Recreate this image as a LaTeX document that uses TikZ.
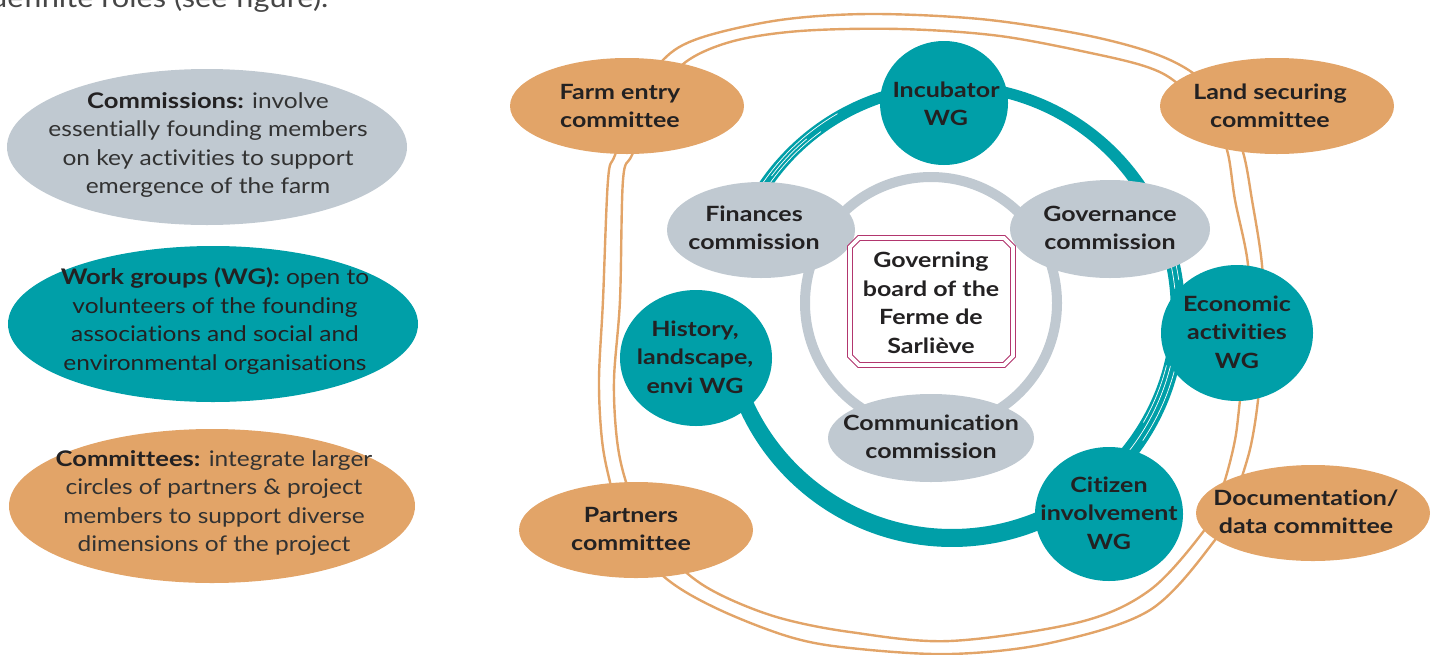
\documentclass[tikz,border=0pt]{standalone}
\usepackage{fontspec}
\setmainfont{Lato}[FakeStretch=1.14, Ligatures=NoCommon, BoldFeatures={FakeStretch=1.19}]
\definecolor{wgteal}{RGB}{0,159,168}
\definecolor{cmgrey}{RGB}{192,201,209}
\definecolor{ctorange}{RGB}{226,164,104}
\definecolor{boardred}{RGB}{178,54,110}
\definecolor{txt}{RGB}{35,33,34}
\definecolor{bodytxt}{RGB}{50,50,50}
\begin{document}
\begin{tikzpicture}[x=1pt,y=-1pt,
  lbl/.style={font=\fontsize{21}{28.5}\selectfont\bfseries, text=txt, align=center, inner sep=0pt},
  body/.style={font=\fontsize{21.5}{28.5}\selectfont, text=bodytxt, align=center, inner sep=0pt},
  ctfill/.style={fill=ctorange},
  wgfill/.style={fill=wgteal},
  cmfill/.style={fill=cmgrey},
  outerloop/.style={draw=ctorange, line width=2.4pt},
  cmring/.style={draw=cmgrey, line width=10pt},
  brush/.style={draw=white, line width=0.7pt},
  boardframe/.style={draw=boardred, line width=1.1pt, double=white, double distance=3.6pt, fill=white}
]
\useasboundingbox (0,0) rectangle (1437,654);
\clip (0,0) rectangle (1437,654);

% cut-off introductory text at top
\node[body, anchor=base west, font=\fontsize{27}{30}\selectfont, text=bodytxt!90] (intro) at (-10,7) {definite roles (see figure).};

% ---------- legend ----------
\path[cmfill] (207,147) ellipse [x radius=200pt, y radius=78pt];
\node[body] (legcm) at (208,145) {{\bfseries\color{txt}Commissions:} involve\\essentially founding members\\on key activities to support\\emergence of the farm};
\path[wgfill] (213,324) ellipse [x radius=205pt, y radius=78pt];
\node[body, text=txt] (legwg) at (215,321) {{\bfseries Work groups (WG):} open to\\volunteers of the founding\\associations and social and\\environmental organisations};
\path[ctfill] (212,506) ellipse [x radius=203pt, y radius=77pt];
\node[body] (legct) at (214,503) {{\bfseries\color{txt}Committees:} integrate larger\\circles of partners \& project\\members to support diverse\\dimensions of the project};

% ---------- outer double loop (committees) ----------
\draw[outerloop] plot[smooth cycle, tension=0.55] coordinates {
 (663,60) (700,38) (780,20) (870,14) (980,19) (1080,34) (1150,52) (1193,73) (1225,105)
 (1243,152) (1252,200) (1262,265) (1264,330) (1258,400) (1252,440) (1245,467) (1232,505)
 (1215,540) (1150,610) (1050,643) (950,654) (850,648) (790,637) (720,610) (668,580)
 (625,535) (610,482) (602,440) (599,380) (603,300) (608,180) (615,155) (635,105)};
\draw[outerloop] plot[smooth cycle, tension=0.55] coordinates {
 (682,65) (730,42) (800,31) (900,29) (1000,36) (1100,55) (1150,68) (1177,83) (1210,115)
 (1227,150) (1235,200) (1248,265) (1248,330) (1240,400) (1235,440) (1225,480) (1215,505)
 (1203,532) (1150,590) (1080,622) (950,641) (850,632) (780,618) (725,597) (688,574)
 (645,530) (626,482) (617,440) (614,380) (620,300) (623,180) (632,155) (655,108)};

% ---------- work-group ring (brush stroke, thicker at the bottom) ----------
\fill[wgteal] plot[domain=-146:158, samples=150, smooth]
    ({952+(226+(11+3.5*(1+sin(\x)))/2)*cos(\x)},{312+(226+(11+3.5*(1+sin(\x)))/2)*sin(\x)})
  -- plot[domain=158:-146, samples=150, smooth]
    ({952+(226-(11+3.5*(1+sin(\x)))/2)*cos(\x)},{312+(226-(11+3.5*(1+sin(\x)))/2)*sin(\x)})
  -- cycle;
\foreach \sa/\ea/\rr in {-146/-120/229, -146/-126/223, -143/-130/226, -24/-6/224, -22/-8/229,
   10/38/225, 12/34/230, 14/30/221}{
  \draw[brush] plot[domain=\sa:\ea, samples=30, smooth] ({952+\rr*cos(\x)},{312+\rr*sin(\x)});
}

% ---------- commission ring ----------
\draw[cmring] (931,303) circle [radius=126];

% ---------- committees ----------
\path[ctfill] (627,106) ellipse [x radius=117pt, y radius=48pt];
\node[lbl] (farm) at (620,106) {Farm entry\\committee};
\path[ctfill] (1277,106) ellipse [x radius=117pt, y radius=48pt];
\node[lbl] (land) at (1270,106) {Land securing\\committee};
\path[ctfill] (636,530) ellipse [x radius=117pt, y radius=48pt];
\node[lbl] (partners) at (631,529) {Partners\\committee};
\path[ctfill] (1313,513) ellipse [x radius=117pt, y radius=48pt];
\node[lbl] (doc) at (1306,512) {Documentation/\\data committee};

% ---------- work groups ----------
\path[wgfill] (944,103) ellipse [x radius=64pt, y radius=62pt];
\node[lbl] (incub) at (946,104) {Incubator\\WG};
\path[wgfill] (1237,333) ellipse [x radius=76pt, y radius=68pt];
\node[lbl] (econ) at (1237,332) {Economic\\activities\\WG};
\path[wgfill] (1109,514) ellipse [x radius=74pt, y radius=67pt];
\node[lbl] (citizen) at (1109,513) {Citizen\\involvement\\WG};
\path[wgfill] (696,358) ellipse [x radius=76pt, y radius=68pt];
\node[lbl] (history) at (695,357) {History,\\landscape,\\envi WG};

% ---------- commissions ----------
\path[cmfill] (761,230) ellipse [x radius=94pt, y radius=48pt];
\node[lbl] (fin) at (754,228) {Finances\\commission};
\path[cmfill] (1110,229) ellipse [x radius=100pt, y radius=49pt];
\node[lbl] (gov) at (1110,228) {Governance\\commission};
\path[cmfill] (931,438) ellipse [x radius=103pt, y radius=44pt];
\node[lbl] (com) at (931,437) {Communication\\commission};

% ---------- governing board (double chamfered frame) ----------
\path[boardframe] (859,238) -- (1004,238) -- (1013,247) -- (1013,356) -- (1004,365)
   -- (859,365) -- (850,356) -- (850,247) -- cycle;
\node[lbl] (boardtxt) at (931,303) {Governing\\board of the\\Ferme de\\Sarliève};
\end{tikzpicture}
\end{document}
